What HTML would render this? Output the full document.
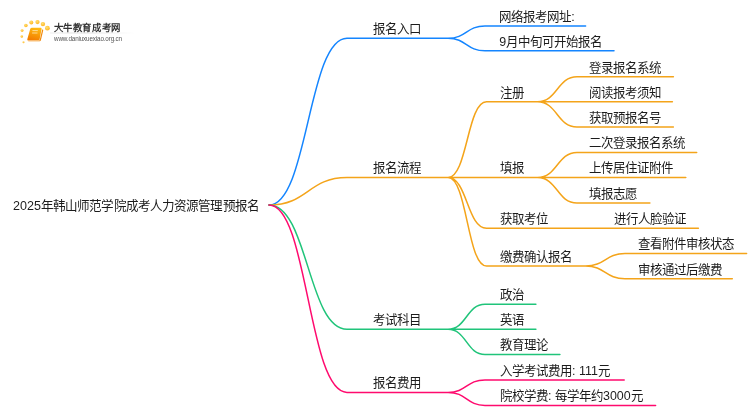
<!DOCTYPE html><html lang="zh-CN"><head><meta charset="utf-8"><style>
html,body{margin:0;padding:0;background:#fff;width:750px;height:410px;overflow:hidden}
body{position:relative;font-family:"Liberation Sans",sans-serif}
svg.lines{position:absolute;left:0;top:0}
#tx{position:absolute;left:0;top:0;width:750px;height:410px;will-change:transform}
svg.lines path{fill:none;stroke-width:1.5;stroke-linecap:round}
.t{position:absolute;white-space:nowrap;font-size:12.45px;line-height:1;color:#1c1c1c;transform-origin:0 11.5px;transform:scale(var(--sx,1),1.045)}
.logo{position:absolute;left:0;top:0}
.lt1{position:absolute;left:53.6px;top:22.6px;font-size:9.4px;line-height:1;color:#333;font-weight:bold;white-space:nowrap;letter-spacing:0.6px}
.lt2{position:absolute;left:54px;top:36px;font-size:6.3px;line-height:1;color:#555;white-space:nowrap;letter-spacing:-0.15px}
</style></head><body>
<svg class="logo" width="140" height="50" viewBox="0 0 140 50">
<defs><linearGradient id="bk" x1="0.6" y1="0" x2="0.3" y2="1"><stop offset="0" stop-color="#ffba10"/><stop offset="1" stop-color="#f27a00"/></linearGradient>
<radialGradient id="dt" cx="0.4" cy="0.35" r="0.7"><stop offset="0" stop-color="#ffe070"/><stop offset="1" stop-color="#ffb21e"/></radialGradient>
<linearGradient id="sep" x1="0" x2="1"><stop offset="0" stop-color="#e8e8e8"/><stop offset="0.4" stop-color="#d6d6d6"/><stop offset="1" stop-color="#fff"/></linearGradient></defs>
<g fill="url(#dt)">
<circle cx="23.5" cy="42.2" r="1.0"/>
<circle cx="21.8" cy="36.4" r="1.25"/>
<circle cx="22.1" cy="30.6" r="1.45"/>
<circle cx="25.9" cy="25.5" r="1.8"/>
<circle cx="31.3" cy="22.4" r="2.0"/>
<circle cx="37.5" cy="22.1" r="2.1"/>
<circle cx="42.9" cy="24.1" r="2.2"/>
<circle cx="47.4" cy="28.2" r="2.4"/>
</g>
<path d="M28.3,41.2 L39.6,41.2 Q40.6,41.2 40.9,40.2 L43.2,30.5 Q43.4,29.6 42.6,29.6 L42.2,29.6 L39.6,40.4 L28.6,40.4 Z" fill="#f08a10"/>
<path d="M32,27.8 L40.6,27.8 Q41.8,27.8 41.6,29 L39.6,39.4 Q39.4,40.4 38.4,40.4 L28.2,40.4 Q27.0,40.4 27.3,39.2 L30.2,29 Q30.6,27.8 32,27.8 Z" fill="url(#bk)"/>
<path d="M28.4,40.9 L39.2,40.9" stroke="#ffe0b0" stroke-width="0.7"/>
<path d="M32.4,30.6 L37.8,30.6 M32.1,33 L37.5,33" stroke="#ffe9b8" stroke-width="0.8"/>
<rect x="50" y="32.6" width="85" height="0.8" fill="url(#sep)"/>
</svg>
<svg class="lines" width="750" height="410" viewBox="0 0 750 410"><path d="M269,205 C308.0,205 308.0,38.3 347,38.3 L448,38.3 M448,38.3 C466.5,38.3 466.5,25.9 485,25.9 L585.6,25.9 M448,38.3 C466.5,38.3 466.5,50.8 485,50.8 L614,50.8" stroke="#1485ff"/><path d="M269,205 C308.0,205 308.0,177.6 347,177.6 L448,177.6 M448,177.6 C467.25,177.6 467.25,101.8 486.5,101.8 L537.5,101.8 M448,177.6 L537.5,177.6 M448,177.6 C467.25,177.6 467.25,228.3 486.5,228.3 L600,228.3 M448,177.6 C467.25,177.6 467.25,266.0 486.5,266.0 L585.5,266.0 M537.5,101.8 C557.25,101.8 557.25,76.7 577.0,76.7 L673.4,76.7 M537.5,101.8 L672.4,101.8 M537.5,101.8 C557.25,101.8 557.25,127.1 577.0,127.1 L673.4,127.1 M537.5,177.6 C557.25,177.6 557.25,152.4 577.0,152.4 L696.7,152.4 M537.5,177.6 L685.8,177.6 M537.5,177.6 C557.25,177.6 557.25,203.0 577.0,203.0 L649.9,203.0 M600,228.3 L698.4,228.3 M585.5,266.0 C605.25,266.0 605.25,253.6 625.0,253.6 L746.6,253.6 M585.5,266.0 C605.25,266.0 605.25,278.8 625.0,278.8 L732.3,278.8" stroke="#f4a41a"/><path d="M269,205 C308.0,205 308.0,329.3 347,329.3 L448,329.3 M448,329.3 C466.5,329.3 466.5,304.3 485,304.3 L535.9,304.3 M448,329.3 L535.9,329.3 M448,329.3 C466.5,329.3 466.5,354.5 485,354.5 L559.9,354.5" stroke="#20c47a"/><path d="M269,205 C308.0,205 308.0,392.4 347,392.4 L448,392.4 M448,392.4 C466.5,392.4 466.5,379.9 485,379.9 L624.2,379.9 M448,392.4 C466.5,392.4 466.5,405.4 485,405.4 L655.6,405.4" stroke="#ff0a6e"/></svg>
<div id="tx"><div class="t" style="left:373.2px;top:22.8px">报名入口</div><div class="t" style="left:373.2px;top:162.1px">报名流程</div><div class="t" style="left:373.2px;top:313.8px">考试科目</div><div class="t" style="left:373.2px;top:376.9px">报名费用</div><div class="t" style="left:499.3px;top:10.8px">网络报考网址:</div><div class="t" style="left:499.3px;top:35.7px">9月中旬可开始报名</div><div class="t" style="left:500.4px;top:86.5px">注册</div><div class="t" style="left:500.4px;top:162.3px">填报</div><div class="t" style="left:500.4px;top:213.0px">获取考位</div><div class="t" style="left:500.4px;top:250.7px">缴费确认报名</div><div class="t" style="left:589.0px;top:61.5px">登录报名系统</div><div class="t" style="left:589.0px;top:86.6px">阅读报考须知</div><div class="t" style="left:589.0px;top:111.9px">获取预报名号</div><div class="t" style="left:588.8px;top:137.2px">二次登录报名系统</div><div class="t" style="left:588.8px;top:162.3px">上传居住证附件</div><div class="t" style="left:588.8px;top:187.8px">填报志愿</div><div class="t" style="left:614.0px;top:213.0px">进行人脸验证</div><div class="t" style="left:637.8px;top:238.4px">查看附件审核状态</div><div class="t" style="left:637.8px;top:263.6px">审核通过后缴费</div><div class="t" style="left:499.8px;top:288.9px">政治</div><div class="t" style="left:499.8px;top:313.9px">英语</div><div class="t" style="left:499.8px;top:339.1px">教育理论</div><div class="t" style="left:500.1px;top:364.9px">入学考试费用: 111元</div><div class="t" style="left:500.1px;top:390.4px">院校学费: 每学年约3000元</div><div class="t" style="left:12.8px;top:200.0px;--sx:1.009">2025年韩山师范学院成考人力资源管理预报名</div><div class="lt1">大牛教育成考网</div><div class="lt2">www.daniuxuexiao.org.cn</div></div>
</body></html>
